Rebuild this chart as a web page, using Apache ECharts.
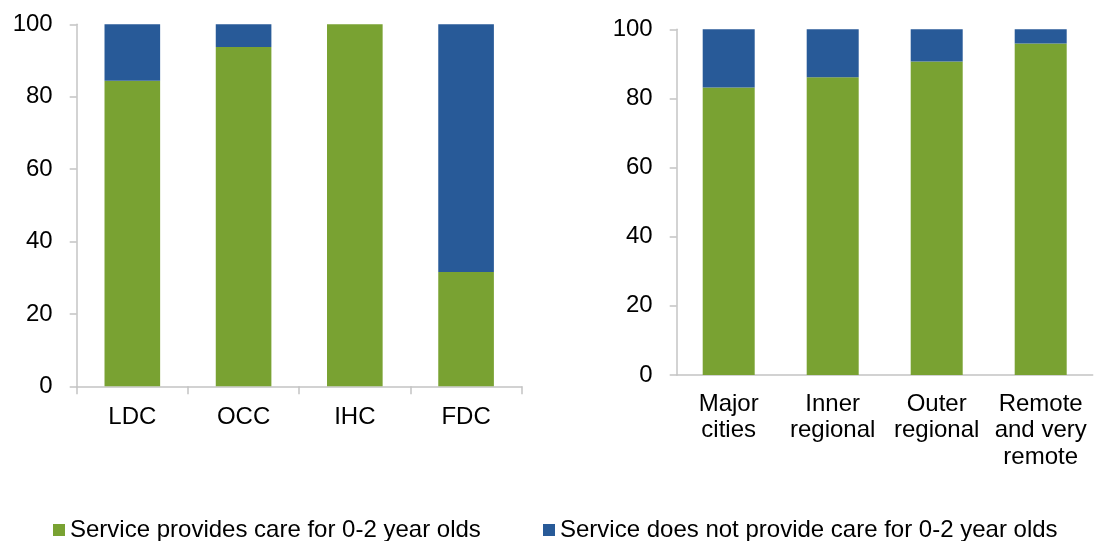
<!DOCTYPE html>
<html>
<head>
<meta charset="utf-8">
<script src="https://cdn.jsdelivr.net/npm/echarts@6/dist/echarts.min.js"></script>
<style>
html,body{margin:0;padding:0;background:#fff;}
#chart{width:1095px;height:541px;}
</style>
</head>
<body>
<div id="chart"></div>
<script>
var serviceTypes = ['LDC', 'OCC', 'IHC', 'FDC'];
var serviceProvides = [84.4, 93.7, 100, 31.6];
var serviceNotProvides = [15.6, 6.3, 0, 68.4];

var regions = ['Major\ncities', 'Inner\nregional', 'Outer\nregional', 'Remote\nand very\nremote'];
var regionProvides = [83.2, 86.1, 90.7, 95.9];
var regionNotProvides = [16.8, 13.9, 9.3, 4.1];

var seriesNames = ['Service provides care for 0-2 year olds', 'Service does not provide care for 0-2 year olds'];

var GREEN = '#79A232';
var BLUE = '#285A98';
var AXIS = '#C4C4C4';
var FONT = '"Liberation Sans", Arial, sans-serif';
var FS = 24;

var chart = echarts.init(document.getElementById('chart'), null, {renderer: 'canvas'});

function yAxisCfg(idx) {
  return {
    type: 'value', gridIndex: idx, min: 0, max: 100, interval: 20,
    axisLine: {show: true, lineStyle: {color: AXIS, width: 1.5}},
    axisTick: {show: true, length: 7, lineStyle: {color: AXIS, width: 1.5}},
    splitLine: {show: false},
    axisLabel: {margin: 24, color: '#000', fontFamily: FONT, fontSize: FS}
  };
}

var option = {
  backgroundColor: '#fff',
  animation: false,
  grid: [
    {left: 76.7, top: 24.3, width: 445, height: 362, containLabel: false},
    {left: 676.7, top: 29.3, width: 416, height: 345.7, containLabel: false}
  ],
  legend: [
    {
      data: [seriesNames[0]], left: 53, top: 517, itemWidth: 12, itemHeight: 12, padding: 0,
      icon: 'rect', textStyle: {fontFamily: FONT, fontSize: 24, color: '#000', lineHeight: 26}
    },
    {
      data: [seriesNames[1]], left: 543, top: 517, itemWidth: 12, itemHeight: 12, padding: 0,
      icon: 'rect', textStyle: {fontFamily: FONT, fontSize: 24, color: '#000', lineHeight: 26}
    }
  ],
  xAxis: [
    {
      type: 'category', gridIndex: 0, data: serviceTypes,
      axisLine: {show: true, lineStyle: {color: AXIS, width: 1.5}},
      axisTick: {show: true, length: 8, alignWithLabel: false, lineStyle: {color: AXIS, width: 1.5}},
      axisLabel: {margin: 18, color: '#000', fontFamily: FONT, fontSize: FS, lineHeight: 26}
    },
    {
      type: 'category', gridIndex: 1, data: regions,
      axisLine: {show: true, lineStyle: {color: AXIS, width: 1.5}},
      axisTick: {show: false},
      axisLabel: {margin: 16, color: '#000', fontFamily: FONT, fontSize: FS, lineHeight: 26.5, interval: 0}
    }
  ],
  yAxis: [yAxisCfg(0), yAxisCfg(1)],
  series: [
    {
      name: seriesNames[0], type: 'bar', stack: 'a', xAxisIndex: 0, yAxisIndex: 0,
      data: serviceProvides, barCategoryGap: '50%', itemStyle: {color: GREEN}
    },
    {
      name: seriesNames[1], type: 'bar', stack: 'a', xAxisIndex: 0, yAxisIndex: 0,
      data: serviceNotProvides, barCategoryGap: '50%', itemStyle: {color: BLUE}
    },
    {
      name: seriesNames[0], type: 'bar', stack: 'b', xAxisIndex: 1, yAxisIndex: 1,
      data: regionProvides, barCategoryGap: '50%', itemStyle: {color: GREEN}
    },
    {
      name: seriesNames[1], type: 'bar', stack: 'b', xAxisIndex: 1, yAxisIndex: 1,
      data: regionNotProvides, barCategoryGap: '50%', itemStyle: {color: BLUE}
    }
  ]
};
chart.setOption(option);
</script>
</body>
</html>
